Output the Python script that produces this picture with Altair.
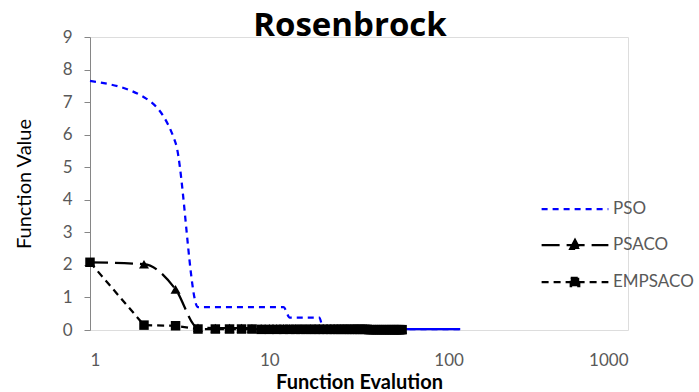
import altair as alt
import pandas as pd

series_names = ["PSO", "PSACO", "EMPSACO"]
series_colors = ["#0000FF", "#000000", "#000000"]
series_dashes = [[6, 5], [18, 7], [7, 5]]
legend_shapes = [
    "M-1.26,0L1.26,0",
    "M-1.26,0L1.26,0M-0.18,0.15L0,-0.19L0.18,0.15Z",
    "M-1.26,0L1.26,0M-0.16,-0.16L0.16,-0.16L0.16,0.16L-0.16,0.16Z",
]

pso_evals = [1, 2, 3, 4, 12, 13, 19, 20, 116]
pso_values = [7.65, 7.15, 5.75, 0.70, 0.70, 0.38, 0.38, 0.03, 0.03]

aco_evals = [1, 2, 3, 4, 5, 6, 7, 8, 9, 10,
             11, 12, 13, 14, 15, 16, 17, 18, 19, 20,
             21, 22, 23, 24, 25, 26, 27, 28, 29, 30,
             31, 32, 33, 34, 35, 36, 37, 38, 39, 40,
             41, 42, 43, 44, 45, 46, 47, 48, 49, 50,
             51, 52, 53, 54, 55]
psaco_values = [2.08, 2.02, 1.25, 0.07, 0.06, 0.06, 0.06, 0.05, 0.05, 0.05,
                0.05, 0.05, 0.05, 0.05, 0.05, 0.04, 0.04, 0.04, 0.04, 0.04,
                0.04, 0.04, 0.04, 0.04, 0.04, 0.04, 0.04, 0.03, 0.03, 0.04,
                0.04, 0.03, 0.03, 0.03, 0.03, 0.03, 0.03, 0.03, 0.03, 0.03,
                0.03, 0.03, 0.02, 0.02, 0.02, 0.02, 0.02, 0.02, 0.02, 0.02,
                0.02, 0.02, 0.02, 0.02, 0.02]
empsaco_values = [2.08, 0.15, 0.13, 0.03, 0.03, 0.03, 0.03, 0.03, 0.02, 0.02,
                  0.02, 0.02, 0.02, 0.02, 0.02, 0.02, 0.02, 0.02, 0.02, 0.02,
                  0.02, 0.02, 0.02, 0.02, 0.02, 0.02, 0.02, 0.02, 0.02, 0.02,
                  0.02, 0.02, 0.02, 0.02, 0.02, 0.01, 0.01, 0.01, 0.01, 0.01,
                  0.01, 0.01, 0.01, 0.01, 0.01, 0.01, 0.01, 0.01, 0.01, 0.01,
                  0.01, 0.01, 0.01, 0.01, 0.01]

x_ticks = [1, 10, 100, 1000]
y_ticks = [0, 1, 2, 3, 4, 5, 6, 7, 8, 9]

rows = []
for e, v in zip(pso_evals, pso_values):
    rows.append({"series": "PSO", "evals": e, "value": v})
for e, v in zip(aco_evals, psaco_values):
    rows.append({"series": "PSACO", "evals": e, "value": v})
for e, v in zip(aco_evals, empsaco_values):
    rows.append({"series": "EMPSACO", "evals": e, "value": v})
df = pd.DataFrame(rows)

FONT = "Lato"
GREY = "#595959"

x_enc = alt.X(
    "evals:Q",
    scale=alt.Scale(type="log", domain=[1, 1000]),
    axis=alt.Axis(values=x_ticks, format="d", domain=False, ticks=False, grid=False,
                  labelPadding=22, labelFontSize=17, labelColor=GREY, labelFont=FONT,
                  title="Function Evalution", titleFontSize=20, titleFontWeight="bold",
                  titleColor="#000000", titleFont=FONT, titlePadding=4),
)
y_enc = alt.Y(
    "value:Q",
    scale=alt.Scale(domain=[0, 9], nice=False, zero=True),
    axis=alt.Axis(values=y_ticks, grid=False, domainColor="#868686", tickColor="#868686",
                  tickSize=6, labelPadding=12, labelFontSize=17, labelColor=GREY, labelFont=FONT,
                  title="Function Value", titleFontSize=20, titleFontWeight="normal",
                  titleColor="#000000", titleFont=FONT, titlePadding=28),
)

base = alt.Chart(df)


def series_line(name, color, dash, interp):
    return base.transform_filter(alt.datum.series == name).mark_line(
        interpolate=interp, strokeWidth=2.25, color=color, strokeDash=dash
    ).encode(x=x_enc, y=y_enc)


pso_line = series_line("PSO", series_colors[0], series_dashes[0], "monotone")
psaco_line = series_line("PSACO", series_colors[1], series_dashes[1], "monotone")
empsaco_line = series_line("EMPSACO", series_colors[2], series_dashes[2], "linear")

pso_tail = base.transform_filter(
    "datum.series == 'PSO' && datum.evals >= 20"
).mark_line(interpolate="monotone", strokeWidth=2.25, color="#0000FF").encode(x=x_enc, y=y_enc)

triangles = base.transform_filter(alt.datum.series == "PSACO").mark_point(
    shape="triangle-up", filled=True, color="#000000", size=100, opacity=1
).encode(x=x_enc, y=y_enc)

squares = base.transform_filter(alt.datum.series == "EMPSACO").mark_point(
    shape="square", filled=True, color="#000000", size=90, opacity=1
).encode(x=x_enc, y=y_enc)

leg = alt.Legend(title=None, orient="none", legendX=457, legendY=144,
                 symbolSize=2809, symbolStrokeWidth=2.25, symbolOpacity=1,
                 labelFontSize=17, labelColor=GREY, labelFont=FONT, labelOffset=10,
                 rowPadding=0, padding=0, symbolOffset=0)

legend_layer = base.mark_point(filled=False, fill="#000000", opacity=0, strokeWidth=2.25).encode(
    x=x_enc, y=y_enc,
    color=alt.Color("series:N", scale=alt.Scale(domain=series_names, range=series_colors), legend=leg),
    shape=alt.Shape("series:N", scale=alt.Scale(domain=series_names, range=legend_shapes), legend=leg),
    strokeDash=alt.StrokeDash("series:N", scale=alt.Scale(domain=series_names, range=series_dashes), legend=leg),
)

chart = alt.layer(legend_layer, pso_line, pso_tail, psaco_line, empsaco_line, triangles, squares).properties(
    width=538, height=293,
    autosize=alt.AutoSizeParams(type="none"),
    padding={"left": 90, "top": 37, "right": 71, "bottom": 62},
    title=alt.Title("Rosenbrock", fontSize=33, font="Open Sans", fontWeight="bold", color="#000000",
                    anchor="middle", dx=-9, dy=41, offset=0, baseline="alphabetic"),
).configure_view(stroke=None).configure(background="white")

chart.save("out.html", embed_options={"renderer": "svg", "actions": False})
